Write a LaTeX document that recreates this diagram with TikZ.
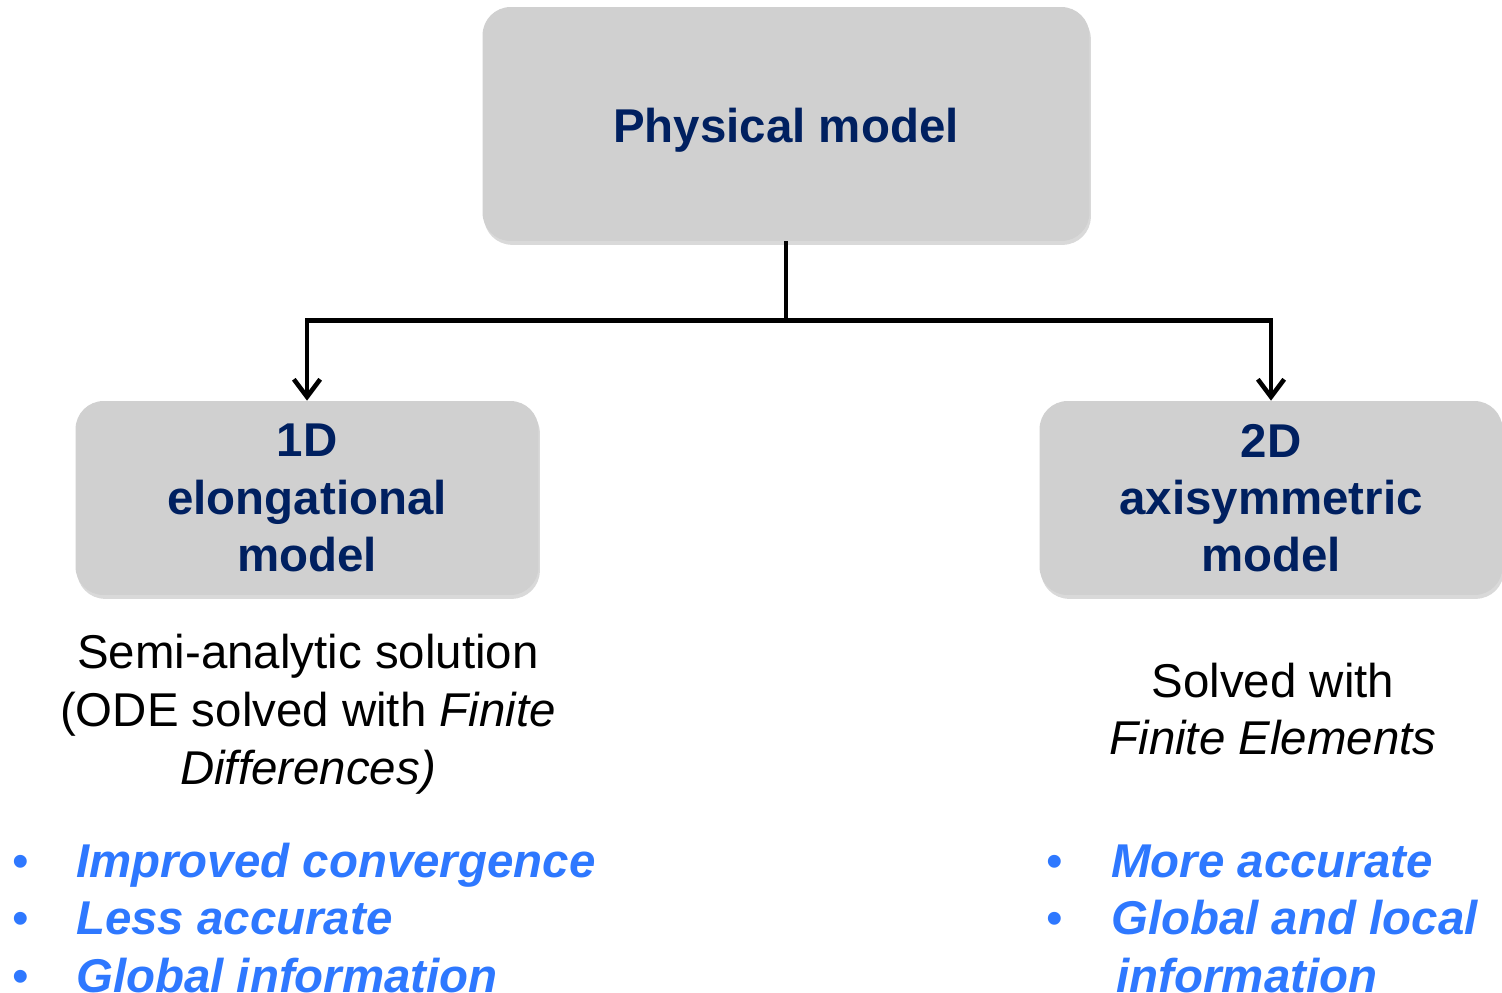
\documentclass[tikz,border=0pt]{standalone}
\usepackage{fontspec}
\setmainfont{Liberation Sans}
\usepackage{tikz}
\usetikzlibrary{positioning, arrows.meta, shadows}
\definecolor{boxgray}{RGB}{208,208,208}
\definecolor{titlenavy}{RGB}{0,32,96}
\definecolor{problue}{RGB}{46,120,255}
\newcommand{\probullet}[1]{\makebox[#1][l]{\mdseries\upshape •}}
\tikzset{
  boxtext/.style={inner sep=0pt, align=center, text=titlenavy,
    font=\fontsize{27}{32.6}\selectfont\bfseries},
  modelbox/.style={boxtext, fill=boxgray, rounded corners=16pt,
    drop shadow={shadow xshift=0.8pt, shadow yshift=-2.2pt, opacity=0.3}},
  wire/.style={-{Straight Barb[length=10pt, width=15pt, line width=2.6pt]}, line width=2.6pt},
  note/.style={align=center, inner sep=0pt, font=\fontsize{27}{32.9}\selectfont},
  pro/.style={inner sep=0pt, text=problue, font=\fontsize{27}{32.6}\selectfont\bfseries\itshape}
}

\begin{document}
\begin{tikzpicture}[x=0.02cm, y=-0.02cm]
    \useasboundingbox (0,0) rectangle (1502,993);
    \node[modelbox, minimum width=12.14cm, minimum height=4.68cm] (phys) at (786,124) {};
    \node[boxtext] (physlabel) at (786,130) {Physical model};
    \node[modelbox, minimum width=9.26cm, minimum height=3.88cm] (oneD) at (307,498) {1D\\elongational\\model};
    \node[modelbox, minimum width=9.26cm, minimum height=3.88cm] (twoD) at (1271,498) {2D\\axisymmetric\\model};
    \draw[wire] (phys.south) -- ++(0,79) -| (oneD.north);
    \draw[wire] (phys.south) -- ++(0,79) -| (twoD.north);
    \node[note] (semi) at (308,714) {Semi-analytic solution\\(ODE solved with \textit{Finite}\\\textit{Differences)}};
    \node[note] (fem) at (1273,709) {Solved with\\\textit{Finite Elements}};
    % pros and cons of each model
    \node[pro, anchor=north west] (listL) at (12,837) {\begin{tabular}{@{}l@{}l@{}}
      \probullet{36.3pt} & Improved convergence\\
      \probullet{36.3pt} & Less accurate\\
      \probullet{36.3pt} & Global information
    \end{tabular}};
    \node[pro, anchor=north west] (listR) at (1046,837) {\begin{tabular}{@{}l@{}l@{}}
      \probullet{36.9pt} & More accurate\\
      \probullet{36.9pt} & Global and local\\
                         & \hspace{3pt}information
    \end{tabular}};
\end{tikzpicture}
\end{document}
